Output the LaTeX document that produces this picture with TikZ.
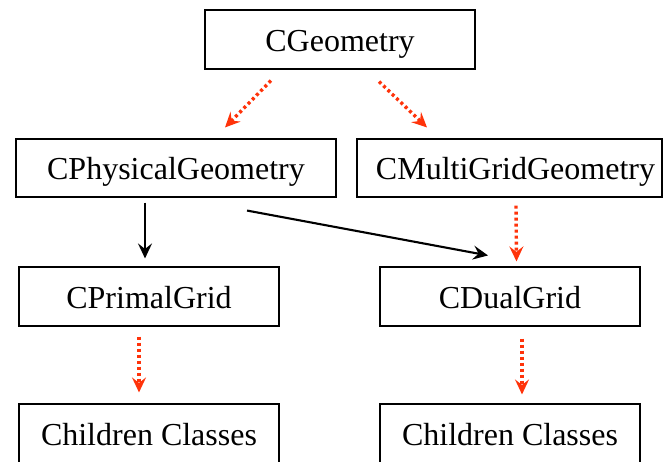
\documentclass[tikz,border=0pt]{standalone}
\usepackage{fontspec}
\setmainfont{Liberation Serif}
\usetikzlibrary{arrows.meta,calc}
\definecolor{inhred}{RGB}{255,51,10}
\tikzset{
  classbox/.style={draw=black, line width=1.1pt, inner sep=0pt,
    text height=30pt, text depth=6pt,
    font=\fontsize{32}{36}\selectfont},
  uses/.style={draw=black, line width=2.1pt,
    -{Stealth[length=15pt,width=14pt,inset=5.5pt]}},
  derives/.style={draw=inhred, line width=3.4pt, dash pattern=on 3pt off 3pt,
    -{Stealth[length=15pt,width=14pt,inset=5.5pt]}},
}
\begin{document}
\begin{tikzpicture}[x=1pt,y=-1pt]
\useasboundingbox (0,0) rectangle (663,462);
\clip (0,0) rectangle (663,462);

% class boxes
\node[classbox, minimum width=270pt, minimum height=59pt] (geo)    at (340,39.5)  {CGeometry};
\node[classbox, minimum width=320pt, minimum height=58pt] (phys)   at (176,168)   {CPhysicalGeometry};
\node[classbox, minimum width=305pt, minimum height=58pt] (multi)  at (509.5,168) {\hspace*{12pt}CMultiGridGeometry};
\node[classbox, minimum width=260pt, minimum height=59pt] (primal) at (149,296.5) {CPrimalGrid};
\node[classbox, minimum width=260pt, minimum height=59pt] (dual)   at (510,296.5) {CDualGrid};
\node[classbox, minimum width=260pt, minimum height=59pt] (childL) at (149,433.5) {Children Classes};
\node[classbox, minimum width=260pt, minimum height=59pt] (childR) at (510,433.5) {Children Classes};

% inheritance (dotted red)
\draw[derives] ($(geo.south)+(-69,11)$) -- ($(phys.north)+(49,-11)$);
\draw[derives] ($(geo.south)+(39,12)$) -- ($(multi.north)+(-82.5,-11)$);
\draw[derives] ($(multi.south)+(6.5,8)$) -- ($(dual.north)+(6.5,-5)$);
\draw[derives] ($(primal.south)+(-10,10)$) -- ($(childL.north)+(-10,-11)$);
\draw[derives] ($(dual.south)+(12,12)$) -- ($(childR.north)+(12,-9)$);

% usage (solid black)
\draw[uses] ($(phys.south)+(-31,5)$) -- ($(primal.north)+(-4,-8)$);
\draw[uses] ($(phys.south)+(71,13)$) -- ($(dual.north)+(-22,-11)$);
\end{tikzpicture}
\end{document}
